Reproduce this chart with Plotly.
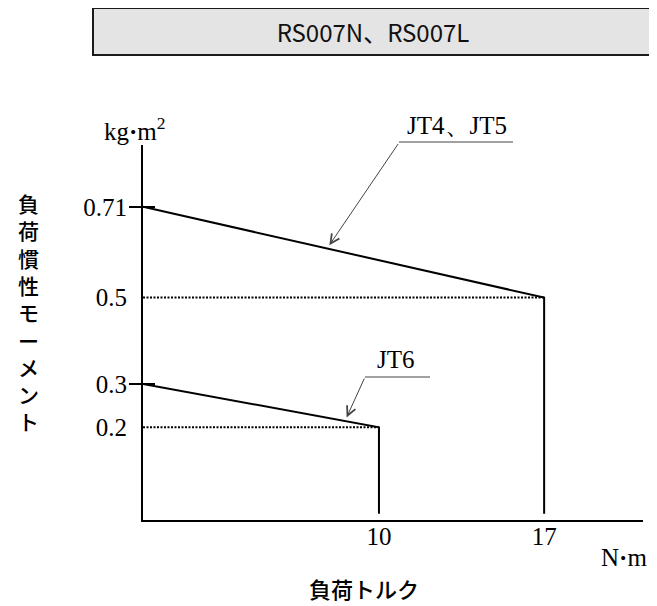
import plotly.graph_objects as go

# ---- data ----
title_text = "RS007N、RS007L"
torque_ticks = [10, 17]
inertia_ticks = [0.71, 0.5, 0.3, 0.2]
inertia_tick_text = ["0.71", "0.5", "0.3", "0.2"]
jt45_torque = [0, 17, 17]
jt45_inertia = [0.71, 0.5, 0]
jt6_torque = [0, 10, 10]
jt6_inertia = [0.3, 0.2, 0]
label_jt45 = "JT4、JT5"
label_jt6 = "JT6"
y_title = "負荷慣性モーメント"
x_title = "負荷トルク"
y_unit = "kg<b>·</b>m<sup>2</sup>"
x_unit = "N<b>·</b>m"

# ---- layout geometry (page pixels; the page body adds an 8px offset) ----
OFF = 8
W, H = 657 - OFF, 606 - OFF
PL, PR, PT, PB = 143, 643, 145, 520          # plot area on the page
L, T = PL - OFF, PT - OFF
R, B = (OFF + W) - PR, (OFF + H) - PB
X_RANGE = [0, 21.19]
Y_RANGE = [-0.0146, 0.853]
SERIF = "Liberation Serif, Times New Roman, serif"
SANS = "Noto Sans CJK JP, Noto Sans, sans-serif"


def px_x(px):
    return (px - PL) / (PR - PL)


def px_y(py):
    return (PB - py) / (PB - PT)


fig = go.Figure()

# dotted guide lines
fig.add_trace(go.Scatter(
    x=[0, jt45_torque[1]], y=[jt45_inertia[1]] * 2, mode="lines",
    line=dict(color="black", width=2, dash="2px,1.5px"),
    yaxis="y2", hoverinfo="skip", showlegend=False))
fig.add_trace(go.Scatter(
    x=[0, jt6_torque[1]], y=[jt6_inertia[1]] * 2, mode="lines",
    line=dict(color="black", width=2, dash="2px,1.5px"),
    yaxis="y2", hoverinfo="skip", showlegend=False))

# main curves
fig.add_trace(go.Scatter(
    x=jt45_torque, y=jt45_inertia, mode="lines",
    line=dict(color="black", width=2), showlegend=False))
fig.add_trace(go.Scatter(
    x=jt6_torque, y=jt6_inertia, mode="lines",
    line=dict(color="black", width=2), yaxis="y3", showlegend=False))

axis_common = dict(range=Y_RANGE, showgrid=False, zeroline=False)
fig.update_layout(
    width=W, height=H,
    margin=dict(l=L, r=R, t=T, b=B, pad=0),
    paper_bgcolor="white", plot_bgcolor="white",
    showlegend=False,
    xaxis=dict(range=X_RANGE, tickvals=torque_ticks, ticks="", ticklen=0,
               showline=True, linewidth=2, linecolor="black",
               showgrid=False, zeroline=False,
               tickfont=dict(family=SERIF, size=25, color="black"),
               ticklabelstandoff=-7),
    yaxis=dict(**axis_common, tickvals=inertia_ticks, ticktext=inertia_tick_text,
               ticks="", ticklen=0, showline=True, linewidth=2, linecolor="black",
               tickfont=dict(family=SERIF, size=25, color="black"),
               ticklabelstandoff=9),
    yaxis2=dict(**axis_common, overlaying="y", side="left", anchor="x",
                tickvals=[jt45_inertia[0], jt6_inertia[0]], ticks="outside",
                ticklen=13, tickwidth=2, tickcolor="black",
                showticklabels=False, showline=False),
    yaxis3=dict(**axis_common, overlaying="y", side="left", anchor="x",
                tickvals=[jt45_inertia[0], jt6_inertia[0]], ticks="inside",
                ticklen=12, tickwidth=2, tickcolor="black",
                showticklabels=False, showline=False),
)

ann = []
# title box
ann.append(dict(text=title_text, xref="paper", yref="paper",
                x=px_x(373), y=px_y(31.5), xanchor="center", yanchor="middle",
                showarrow=False, width=558, height=45, borderpad=0,
                bgcolor="#e4e4e4", bordercolor="#1a1a1a", borderwidth=2,
                font=dict(family=SANS, size=24, color="#111")))
# axis titles
ann.append(dict(text="<br>".join(list(y_title)), xref="paper", yref="paper",
                x=px_x(28), y=px_y(312), xanchor="center", yanchor="middle",
                showarrow=False,
                font=dict(family=SANS, size=21, color="black", weight=500)))
ann.append(dict(text=x_title, xref="paper", yref="paper",
                x=px_x(364), y=px_y(588), xanchor="center", yanchor="middle",
                showarrow=False,
                font=dict(family=SANS, size=22, color="black", weight=500)))
# units
ann.append(dict(text=y_unit, xref="paper", yref="paper",
                x=px_x(135), y=px_y(129), xanchor="center", yanchor="middle",
                showarrow=False, font=dict(family=SERIF, size=25, color="black")))
ann.append(dict(text=x_unit, xref="paper", yref="paper",
                x=px_x(624), y=px_y(557), xanchor="center", yanchor="middle",
                showarrow=False, font=dict(family=SERIF, size=25, color="black")))
# series labels
ann.append(dict(text=label_jt45, xref="paper", yref="paper",
                x=px_x(457), y=px_y(125), xanchor="center", yanchor="middle",
                showarrow=False, font=dict(family=SERIF, size=25, color="black")))
ann.append(dict(text=label_jt6, xref="paper", yref="paper",
                x=px_x(396), y=px_y(359), xanchor="center", yanchor="middle",
                showarrow=False, font=dict(family=SERIF, size=25, color="black")))

# leader arrows pointing at the curves
f45 = 0.459
x45 = jt45_torque[1] * f45
y45 = jt45_inertia[0] + (jt45_inertia[1] - jt45_inertia[0]) * f45
ann.append(dict(text="", x=x45, y=y45, xref="x", yref="y",
                ax=72, ay=-106, showarrow=True, arrowhead=5, arrowsize=1.8,
                arrowwidth=1, arrowcolor="#444", standoff=4))
f6 = 0.856
x6 = jt6_torque[1] * f6
y6 = jt6_inertia[0] + (jt6_inertia[1] - jt6_inertia[0]) * f6
ann.append(dict(text="", x=x6, y=y6, xref="x", yref="y",
                ax=20, ay=-44, showarrow=True, arrowhead=5, arrowsize=1.8,
                arrowwidth=1, arrowcolor="#444", standoff=4))
fig.update_layout(annotations=ann)

# horizontal leader segments under labels
fig.add_shape(type="line", xref="paper", yref="paper",
              x0=px_x(399), x1=px_x(513), y0=px_y(142), y1=px_y(142),
              line=dict(color="#444", width=1))
fig.add_shape(type="line", xref="paper", yref="paper",
              x0=px_x(365), x1=px_x(430), y0=px_y(377), y1=px_y(377),
              line=dict(color="#444", width=1))

fig.write_html("out.html")
